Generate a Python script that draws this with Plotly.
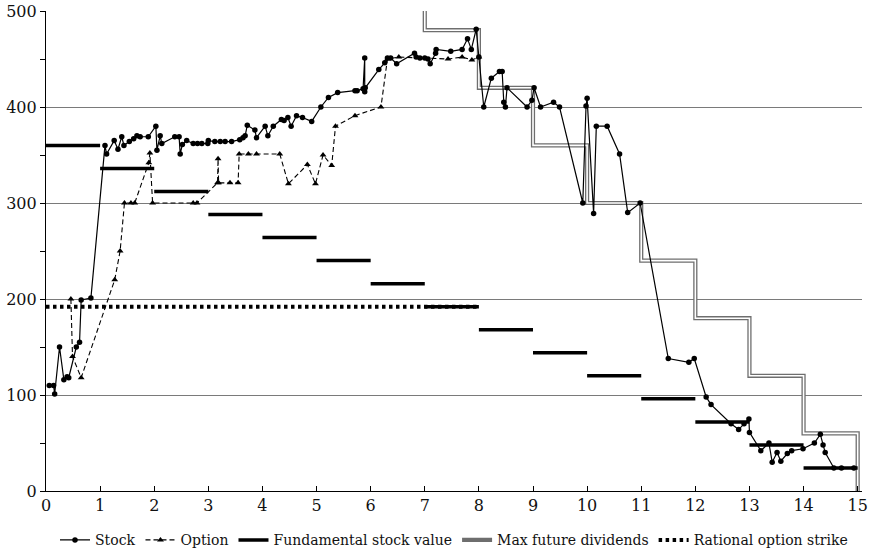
import plotly.graph_objects as go

# Trading periods and observed prices
stock_t = [0.06, 0.14, 0.16, 0.25, 0.33, 0.39, 0.42, 0.56, 0.62, 0.65, 0.83,
           1.09, 1.12, 1.26, 1.33, 1.40, 1.44, 1.54, 1.62, 1.68, 1.74, 1.89,
           2.03, 2.05, 2.11, 2.14, 2.38, 2.46, 2.48, 2.52, 2.60, 2.72, 2.80, 2.88, 2.99,
           3.00, 3.12, 3.22, 3.31, 3.43, 3.58, 3.64, 3.68, 3.72, 3.86, 3.89,
           4.05, 4.10, 4.20, 4.35, 4.40, 4.47, 4.53, 4.63, 4.74, 4.91,
           5.08, 5.22, 5.39, 5.71, 5.75, 5.86, 5.89, 5.89, 5.90,
           6.15, 6.26, 6.31, 6.37, 6.48, 6.81, 6.84, 6.91,
           7.00, 7.06, 7.10, 7.20, 7.21, 7.48, 7.69, 7.79, 7.86, 7.95,
           8.00, 8.09, 8.23, 8.38, 8.43, 8.46, 8.49, 8.52, 8.89, 8.98,
           9.02, 9.14, 9.38, 9.49, 9.92, 9.98,
           10.00, 10.12, 10.17, 10.37, 10.60, 10.75, 10.98,
           11.50, 11.88, 11.98, 12.20, 12.29, 12.66, 12.80, 12.90, 12.99,
           13.00, 13.21, 13.36, 13.42, 13.51, 13.58, 13.70, 13.78, 13.99,
           14.20, 14.31, 14.36, 14.40, 14.56, 14.70, 14.93]
stock_p = [110, 110, 101, 150, 116, 119, 118, 150, 155, 199, 201,
           360, 351, 365, 356, 369, 360, 364, 367, 370, 369, 369,
           380, 355, 370, 362, 369, 369, 351, 361, 365, 362, 362, 362, 362,
           365, 364, 364, 364, 364, 366, 368, 370, 381, 376, 368,
           380, 370, 380, 387, 386, 389, 380, 391, 389, 385,
           400, 410, 415, 417, 417, 419, 451, 416, 420,
           439, 446, 451, 451, 445, 456, 452, 451,
           451, 450, 445, 456, 460, 458, 460, 471, 460, 481,
           452, 400, 430, 437, 437, 405, 400, 420, 400, 407,
           420, 400, 405, 400, 300, 401,
           409, 289, 380, 380, 351, 290, 300,
           138, 134, 138, 98, 90, 70, 64, 70, 75,
           61, 42, 50, 30, 40, 31, 39, 42, 44,
           50, 59, 48, 40, 24, 24, 24]

option_t = [0.46, 0.49, 0.65, 1.27, 1.37, 1.45, 1.57, 1.64, 1.90, 1.92, 1.97,
            2.72, 2.79, 3.17, 3.18, 3.19, 3.40, 3.55, 3.57, 3.74, 3.89,
            4.32, 4.48, 4.83, 4.98, 5.12, 5.28, 5.35, 5.71, 6.19, 6.31, 6.52,
            7.43, 7.69, 7.87, 8.00]
option_p = [200, 140, 118, 220, 250, 300, 300, 300, 342, 352, 300,
            300, 300, 321, 346, 321, 321, 321, 351, 351, 351,
            351, 320, 340, 320, 350, 339, 380, 391, 400, 450, 452,
            450, 452, 449, 452]

# Fundamental value per period (remaining expected dividends of 24 each)
period_start = list(range(15))
fundamental = [360, 336, 312, 288, 264, 240, 216, 192, 168, 144, 120, 96, 72, 48, 24]

# Maximum possible future dividends (60 per remaining period)
maxdiv_t = [6, 7, 8, 9, 10, 11, 12, 13, 14, 15]
maxdiv_v = [540, 480, 420, 360, 300, 240, 180, 120, 60, 0]

# Rational option strike
strike_t = [0, 8]
strike_v = [192, 192]

x_ticks = list(range(16))
y_ticks = [0, 100, 200, 300, 400, 500]

fund_x, fund_y = [], []
for s, v in zip(period_start, fundamental):
    fund_x += [s, s + 1, None]
    fund_y += [v, v, None]

FONT = "DejaVu Serif"

fig = go.Figure()

fig.add_trace(go.Scatter(
    x=maxdiv_t, y=maxdiv_v, mode="lines", name="Max future dividends",
    line=dict(color="#6e6e6e", width=4.2, shape="hv"), legendrank=4))
fig.add_trace(go.Scatter(
    x=maxdiv_t, y=maxdiv_v, mode="lines", showlegend=False, hoverinfo="skip",
    line=dict(color="white", width=1.6, shape="hv")))

fig.add_trace(go.Scatter(
    x=strike_t, y=strike_v, mode="lines", name="Rational option strike",
    line=dict(color="black", width=4, dash="3.5px,3.5px"), legendrank=5))

fig.add_trace(go.Scatter(
    x=fund_x, y=fund_y, mode="lines", name="Fundamental stock value",
    line=dict(color="black", width=3.5), connectgaps=False, legendrank=3))

fig.add_trace(go.Scatter(
    x=option_t, y=option_p, mode="lines+markers", name="Option",
    line=dict(color="black", width=1.1, dash="5px,3px"),
    marker=dict(symbol="triangle-up", size=6, color="black"), legendrank=2))

fig.add_trace(go.Scatter(
    x=stock_t, y=stock_p, mode="lines+markers", name="Stock",
    line=dict(color="black", width=1.2),
    marker=dict(symbol="circle", size=5.5, color="black"), legendrank=1))

fig.update_layout(
    width=874, height=557,
    margin=dict(l=46, r=12, t=11, b=66, autoexpand=False),
    paper_bgcolor="white", plot_bgcolor="white",
    font=dict(family=FONT, color="#111", size=16),
    showlegend=True,
    legend=dict(orientation="h", x=0.5, xanchor="center",
                yref="container", y=0.03, yanchor="middle",
                font=dict(family=FONT, size=14, color="#111"),
                itemwidth=30, tracegroupgap=0, bgcolor="rgba(0,0,0,0)"),
)

fig.update_xaxes(
    range=[0, 15.08], tickvals=x_ticks, ticktext=[str(v) for v in x_ticks],
    showgrid=False, zeroline=False, showline=True, linecolor="black", linewidth=1.2,
    ticks="inside", ticklen=5, tickcolor="black", tickwidth=1.2,
    tickfont=dict(family=FONT, size=16, color="#111"))

fig.update_yaxes(
    range=[0, 500], tickvals=y_ticks, ticktext=[str(v) for v in y_ticks],
    showgrid=True, gridcolor="#7a7a7a", gridwidth=1.2, zeroline=False,
    showline=True, linecolor="black", linewidth=1.2,
    ticks="outside", ticklen=5, tickcolor="black", tickwidth=1.2,
    minor=dict(dtick=50, ticks="outside", ticklen=5, tickcolor="black", showgrid=False),
    tickfont=dict(family=FONT, size=16, color="#111"))

fig.write_html("out.html")
